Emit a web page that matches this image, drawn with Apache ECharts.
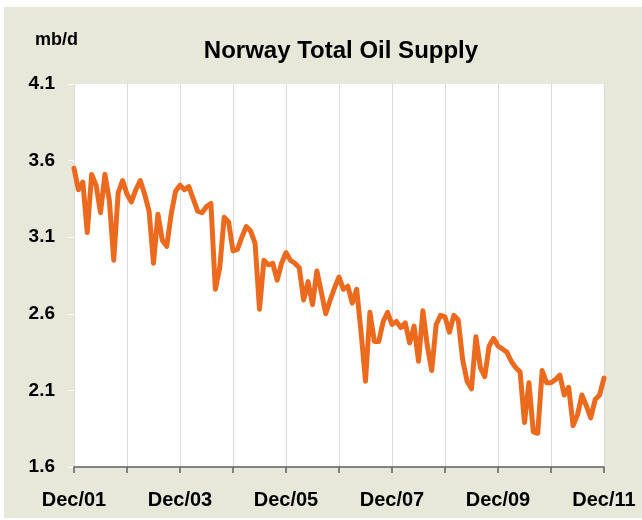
<!DOCTYPE html>
<html>
<head>
<meta charset="utf-8">
<title>Norway Total Oil Supply</title>
<script src="https://cdn.jsdelivr.net/npm/echarts@6/dist/echarts.min.js"></script>
<style>
  body { margin: 0; background: #fff; }
  .wrap { position: relative; width: 642px; height: 520px; background: #fff; }
  .panel { position: absolute; left: 4px; top: 7px; right: 0; bottom: 2px; background: #e7e7da; }
  #chart { position: absolute; left: 0; top: 0; width: 642px; height: 520px; }
</style>
</head>
<body>
<div class="wrap">
  <div class="panel"></div>
  <div id="chart"></div>
</div>
<script>
  // monthly supply, mb/d, Dec/01 .. Dec/11
  var supply = [
    3.55, 3.41, 3.46, 3.13, 3.51, 3.44, 3.26, 3.51, 3.34, 2.95, 3.39, 3.47,
    3.38, 3.33, 3.41, 3.47, 3.38, 3.27, 2.93, 3.25, 3.08, 3.04, 3.25, 3.40,
    3.44, 3.41, 3.43, 3.35, 3.27, 3.26, 3.30, 3.32, 2.76, 2.90, 3.23, 3.20,
    3.01, 3.02, 3.10, 3.17, 3.14, 3.06, 2.63, 2.95, 2.92, 2.93, 2.82, 2.93,
    3.00, 2.95, 2.93, 2.90, 2.69, 2.81, 2.66, 2.88, 2.74, 2.60, 2.69, 2.77,
    2.84, 2.76, 2.78, 2.67, 2.76, 2.48, 2.16, 2.61, 2.42, 2.42, 2.55, 2.61,
    2.53, 2.55, 2.51, 2.54, 2.41, 2.52, 2.29, 2.62, 2.39, 2.23, 2.53, 2.59,
    2.58, 2.48, 2.59, 2.56, 2.30, 2.16, 2.11, 2.45, 2.25, 2.19, 2.39, 2.44,
    2.39, 2.37, 2.35, 2.29, 2.25, 2.22, 1.89, 2.15, 1.83, 1.82, 2.23, 2.15,
    2.15, 2.17, 2.20, 2.07, 2.12, 1.87, 1.94, 2.07, 2.00, 1.92, 2.04, 2.07,
    2.18
  ];
  var monthNames = ['Jan', 'Feb', 'Mar', 'Apr', 'May', 'Jun', 'Jul', 'Aug', 'Sep', 'Oct', 'Nov', 'Dec'];
  var yTicks = [1.6, 2.1, 2.6, 3.1, 3.6, 4.1];

  // category labels Dec/01 .. Dec/11
  var months = [];
  for (var i = 0; i < supply.length; i++) {
    var m = (11 + i) % 12;
    var y = 1 + Math.floor((11 + i) / 12);
    months.push(monthNames[m] + '/' + (y < 10 ? '0' + y : y));
  }

  var font = 'Liberation Sans, Arial, sans-serif';
  var myChart = echarts.init(document.getElementById('chart'));
  myChart.setOption({
    backgroundColor: 'transparent',
    animation: false,
    title: [{
      text: 'Norway Total Oil Supply',
      left: 336,
      top: 34,
      textAlign: 'center',
      textStyle: { color: '#000', fontSize: 24, fontWeight: 'bold', fontFamily: font }
    }, {
      text: 'mb/d',
      left: 30,
      top: 26,
      textStyle: { color: '#000', fontSize: 18, fontWeight: 'bold', fontFamily: font }
    }],
    grid: {
      left: 74,
      right: 38,
      top: 84,
      bottom: 53,
      show: true,
      backgroundColor: '#fff',
      borderWidth: 0
    },
    xAxis: {
      type: 'category',
      data: months,
      boundaryGap: false,
      axisLine: { lineStyle: { color: '#606060', width: 1.5 } },
      axisTick: { interval: 11, length: 6, lineStyle: { color: '#606060', width: 1.5 } },
      axisLabel: {
        interval: 23,
        margin: 23,
        color: '#000',
        fontSize: 20,
        fontWeight: 'bold',
        fontFamily: font
      },
      splitLine: { show: true, interval: 11, lineStyle: { color: '#dadada', width: 1 } }
    },
    yAxis: {
      type: 'value',
      min: yTicks[0],
      max: yTicks[yTicks.length - 1],
      interval: 0.5,
      axisLine: { show: false },
      axisTick: { show: true, length: 6, lineStyle: { color: '#fff', width: 1 } },
      axisLabel: {
        margin: 19,
        color: '#000',
        fontSize: 19,
        fontWeight: 'bold',
        fontFamily: font,
        formatter: function (v) { return v.toFixed(1); }
      },
      splitLine: { show: false }
    },
    series: [{
      type: 'line',
      data: supply,
      showSymbol: false,
      symbol: 'none',
      lineStyle: { color: '#ec6a1e', width: 5, join: 'round', cap: 'round' }
    }]
  });
</script>
</body>
</html>
